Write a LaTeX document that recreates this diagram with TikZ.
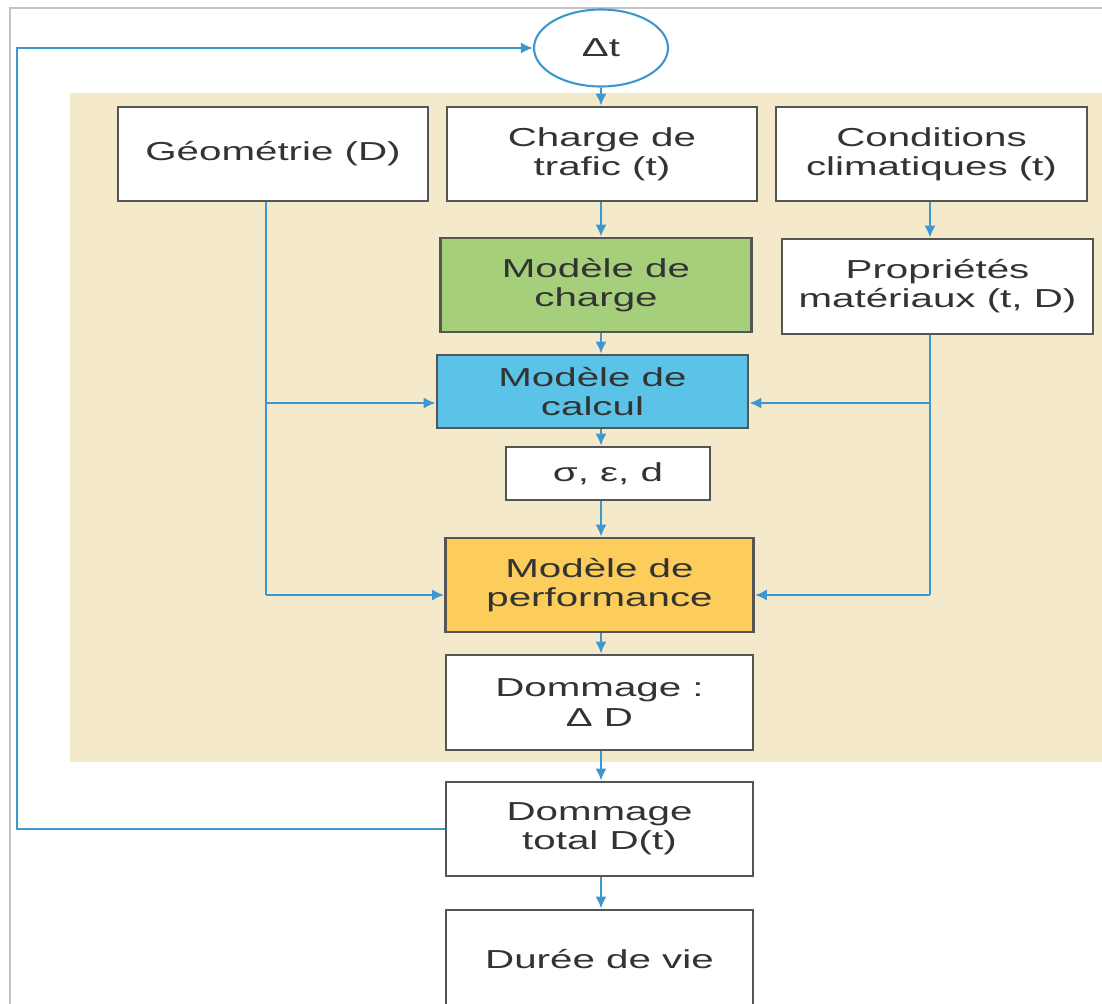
\documentclass[tikz,border=0pt]{standalone}
\usepackage{fontspec}
\setmainfont{Liberation Sans}[FakeStretch=1.55]
\usepackage{tikz}
\usetikzlibrary{shapes,arrows.meta}
\definecolor{fond}{HTML}{F4EACB}
\definecolor{vert}{HTML}{A6CF7C}
\definecolor{bleu}{HTML}{5BC3E8}
\definecolor{orange}{HTML}{FDCD5B}
\definecolor{bleulien}{HTML}{3E97CF}
\definecolor{cadre}{HTML}{555555}
\definecolor{texte}{HTML}{333333}
\definecolor{gris}{HTML}{C4C4C4}
\tikzstyle{bloc} = [draw=cadre, line width=0.8pt, fill=white, align=center,
	inner sep=0pt, text=texte, font=\fontsize{7.4}{8.3}\selectfont]
\tikzstyle{lien} = [draw=bleulien, line width=0.7pt]
\tikzstyle{fleche} = [lien, -{Latex[length=3.4pt,width=3.2pt]}]

\begin{document}
\begin{tikzpicture}
			\useasboundingbox (0,0) rectangle (11.02,-10.04);
			
			% cadre et fond
			\draw [gris, line width=0.4pt] (11.3,-0.08) -- (0.10,-0.08) -- (0.10,-10.3);
			\fill [fond] (0.70,-0.93) rectangle (11.3,-7.62);
			
			\node [ellipse, draw=bleulien, line width=0.6pt, fill=white, text=texte,
			minimum width=1.34cm, minimum height=0.77cm,
			font=\fontsize{7.4}{8.3}\selectfont] (Dt) at (6.01,-0.48) {Δt};
			
			\node [bloc, minimum width=3.10cm, minimum height=0.94cm] (Geo)    at (2.73,-1.54)  {Géométrie (D)};
			\node [bloc, minimum width=3.10cm, minimum height=0.94cm] (Trafic) at (6.02,-1.54)  {Charge de\\trafic (t)};
			\node [bloc, minimum width=3.11cm, minimum height=0.94cm] (Clim)   at (9.315,-1.54) {Conditions\\climatiques (t)};
			\node [bloc, fill=vert, minimum width=3.11cm, minimum height=0.94cm] (MCharge) at (5.96,-2.85)  {Modèle de\\charge};
			\node [bloc, minimum width=3.11cm, minimum height=0.95cm] (Props)  at (9.375,-2.865) {Propriétés\\matériaux (t, D)};
			\node [bloc, fill=bleu, minimum width=3.11cm, minimum height=0.73cm] (MCalcul) at (5.925,-3.915) {Modèle de\\calcul};
			\node [bloc, minimum width=2.04cm, minimum height=0.53cm] (Sig)    at (6.08,-4.735) {σ, ε, d};
			\node [bloc, fill=orange, minimum width=3.08cm, minimum height=0.94cm] (MPerf) at (5.995,-5.85) {Modèle de\\performance};
			\node [bloc, minimum width=3.07cm, minimum height=0.95cm] (Dom)    at (5.995,-7.025) {Dommage :\\Δ D};
			\node [bloc, minimum width=3.07cm, minimum height=0.94cm] (DomT)   at (5.995,-8.29)  {Dommage\\total D(t)};
			\node [bloc, minimum width=3.07cm, minimum height=0.98cm] (Vie)    at (5.995,-9.59)  {Durée de vie};
			
			% colonne centrale
			\draw [fleche] (Dt.south) -- (Trafic.north -| Dt);
			\draw [fleche] (Trafic.south -| Dt) -- (MCharge.north -| Dt);
			\draw [fleche] (MCharge.south -| Dt) -- (MCalcul.north -| Dt);
			\draw [fleche] (MCalcul.south -| Dt) -- (Sig.north -| Dt);
			\draw [fleche] (Sig.south -| Dt) -- (MPerf.north -| Dt);
			\draw [fleche] (MPerf.south -| Dt) -- (Dom.north -| Dt);
			\draw [fleche] (Dom.south -| Dt) -- (DomT.north -| Dt);
			\draw [fleche] (DomT.south -| Dt) -- (Vie.north -| Dt);
			
			% entrees laterales
			\coordinate (G1) at (2.66,-4.03);
			\coordinate (G2) at (2.66,-5.95);
			\coordinate (P1) at (9.30,-4.03);
			\coordinate (P2) at (9.30,-5.95);
			\draw [fleche] (Clim.south -| P1) -- (Props.north -| P1);
			\draw [lien] (Geo.south -| G1) -- (G2);
			\draw [fleche] (G1) -- (G1 -| MCalcul.west);
			\draw [fleche] (G2) -- (G2 -| MPerf.west);
			\draw [lien] (Props.south -| P1) -- (P2);
			\draw [fleche] (P1) -- (P1 -| MCalcul.east);
			\draw [fleche] (P2) -- (P2 -| MPerf.east);
			
			% boucle de retour
			\coordinate (Retour) at (0.17,-8.29);
			\draw [fleche] (DomT.west) -- (DomT.west -| Retour) |- (Dt.west);
			
\end{tikzpicture}
\end{document}
